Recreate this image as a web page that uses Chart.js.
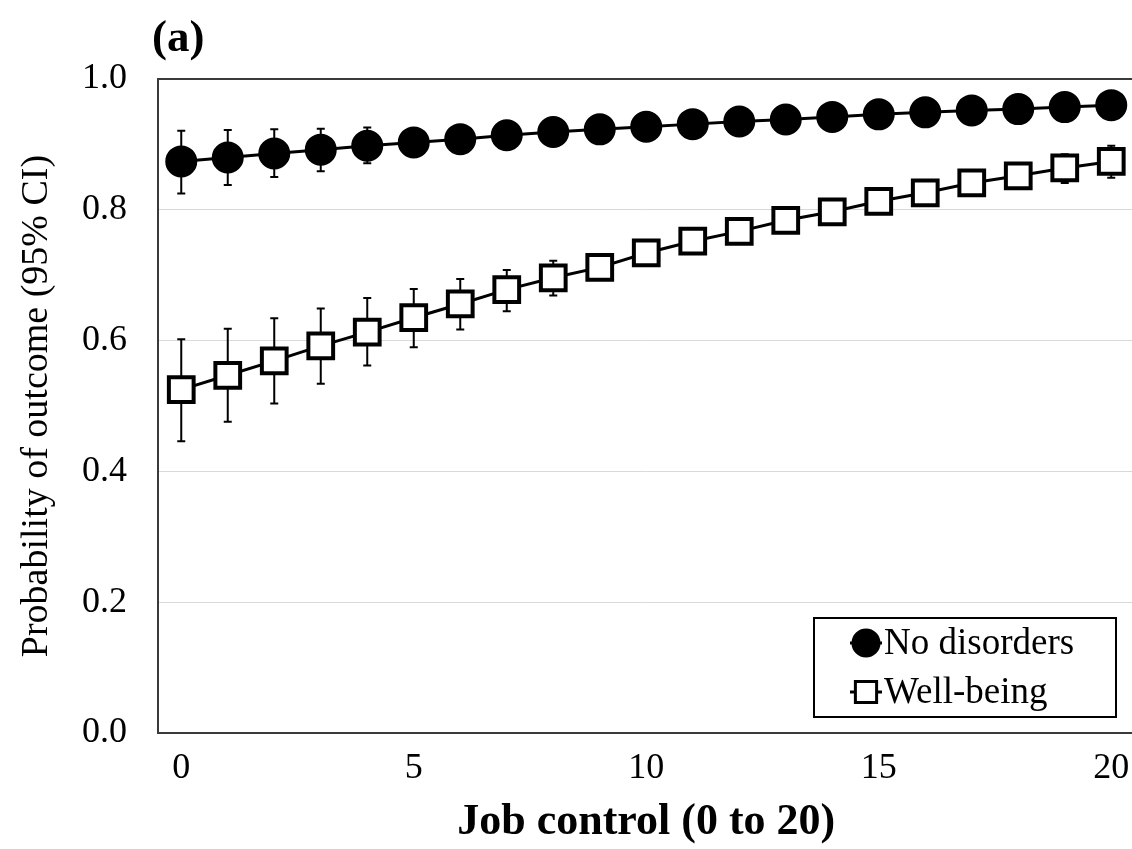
<!DOCTYPE html>
<html>
<head>
<meta charset="utf-8">
<script src="https://cdn.jsdelivr.net/npm/chart.js@4"></script>
<style>
  html, body { margin: 0; padding: 0; background: #fff; overflow: hidden; }
  #wrap { position: relative; width: 1156px; height: 849px; }
</style>
</head>
<body>
<div id="wrap"><canvas id="chart"></canvas></div>
<script>
// Job control score (x axis categories)
const jobControl = [0, 1, 2, 3, 4, 5, 6, 7, 8, 9, 10, 11, 12, 13, 14, 15, 16, 17, 18, 19, 20];
const xTickLabels = ['0', '5', '10', '15', '20'];
const yTickValues = [0.0, 0.2, 0.4, 0.6, 0.8, 1.0];

// Predicted probability of "No disorders" with 95% CI
const noDisorders      = [0.874, 0.880, 0.886, 0.892, 0.898, 0.903, 0.908, 0.914, 0.919, 0.923, 0.927, 0.931, 0.935, 0.938, 0.942, 0.946, 0.949, 0.952, 0.954, 0.957, 0.960];
const noDisordersLower = [0.825, 0.838, 0.850, 0.859, 0.871, 0.882, 0.890, 0.897, 0.903, 0.908, 0.913, 0.918, 0.922, 0.926, 0.930, 0.934, 0.937, 0.940, 0.942, 0.945, 0.947];
const noDisordersUpper = [0.921, 0.922, 0.923, 0.924, 0.926, 0.923, 0.925, 0.928, 0.934, 0.938, 0.941, 0.944, 0.947, 0.950, 0.953, 0.957, 0.960, 0.963, 0.965, 0.968, 0.971];

// Predicted probability of "Well-being" with 95% CI
const wellBeing      = [0.525, 0.547, 0.569, 0.592, 0.613, 0.635, 0.656, 0.678, 0.696, 0.712, 0.734, 0.752, 0.767, 0.784, 0.797, 0.813, 0.826, 0.841, 0.852, 0.864, 0.874];
const wellBeingLower = [0.446, 0.476, 0.504, 0.534, 0.562, 0.590, 0.617, 0.645, 0.669, 0.694, 0.717, 0.736, 0.752, 0.769, 0.783, 0.798, 0.811, 0.825, 0.832, 0.841, 0.849];
const wellBeingUpper = [0.602, 0.618, 0.634, 0.649, 0.665, 0.679, 0.694, 0.708, 0.722, 0.731, 0.751, 0.768, 0.782, 0.798, 0.811, 0.828, 0.841, 0.856, 0.871, 0.885, 0.898];

const serif = "'Liberation Serif', 'Times New Roman', serif";
const ink = '#000000';
const frameColor = '#3a3a3a';
const gridColor = '#d9d9d9';

// Vertical CI whiskers, drawn beneath the markers
const errorBars = {
  id: 'errorBars',
  beforeDatasetsDraw(chart) {
    const { ctx, scales: { x, y } } = chart;
    ctx.save();
    ctx.strokeStyle = ink;
    ctx.lineWidth = 2;
    chart.data.datasets.forEach((ds, di) => {
      if (!chart.isDatasetVisible(di)) return;
      ds.data.forEach((v, i) => {
        const px = x.getPixelForValue(i);
        const lo = y.getPixelForValue(ds.ciLower[i]);
        const hi = y.getPixelForValue(ds.ciUpper[i]);
        ctx.beginPath();
        ctx.moveTo(px, lo); ctx.lineTo(px, hi);
        ctx.moveTo(px - 4, lo); ctx.lineTo(px + 4, lo);
        ctx.moveTo(px - 4, hi); ctx.lineTo(px + 4, hi);
        ctx.stroke();
      });
    });
    ctx.restore();
  }
};

// Panel letter and the boxed legend inside the plot area
const decorations = {
  id: 'decorations',
  afterDraw(chart) {
    const { ctx } = chart;
    ctx.save();
    ctx.fillStyle = ink;
    ctx.font = `bold 45px ${serif}`;
    ctx.textAlign = 'left';
    ctx.textBaseline = 'alphabetic';
    ctx.fillText('(a)', 152, 51);

    // legend box
    const bx = 814, by = 618, bw = 302, bh = 99;
    ctx.fillStyle = '#ffffff';
    ctx.fillRect(bx, by, bw, bh);
    ctx.strokeStyle = ink;
    ctx.lineWidth = 2;
    ctx.strokeRect(bx, by, bw, bh);

    const rows = [643, 692];
    chart.data.datasets.forEach((ds, i) => {
      const cy = rows[i];
      const cx = 866;
      ctx.strokeStyle = ink;
      ctx.lineWidth = 3;
      ctx.beginPath();
      ctx.moveTo(cx - 16, cy); ctx.lineTo(cx + 16, cy);
      ctx.stroke();
      ctx.fillStyle = ds.pointBackgroundColor;
      ctx.strokeStyle = ds.pointBorderColor;
      Chart.helpers.drawPoint(ctx, {
        pointStyle: ds.pointStyle,
        radius: ds.legendRadius,
        borderWidth: ds.pointBorderWidth,
        rotation: 0
      }, cx, cy);
      ctx.fillStyle = ink;
      ctx.font = `37px ${serif}`;
      ctx.textAlign = 'left';
      ctx.textBaseline = 'middle';
      ctx.fillText(ds.label, 884, cy + 1);
    });
    ctx.restore();
  }
};

new Chart(document.getElementById('chart'), {
  type: 'line',
  data: {
    labels: jobControl,
    datasets: [
      {
        label: 'No disorders',
        data: noDisorders,
        ciLower: noDisordersLower,
        ciUpper: noDisordersUpper,
        borderColor: ink,
        borderWidth: 3,
        pointStyle: 'circle',
        pointRadius: 15,
        pointBorderWidth: 2,
        pointBackgroundColor: ink,
        pointBorderColor: ink,
        legendRadius: 13,
        tension: 0,
        fill: false
      },
      {
        label: 'Well-being',
        data: wellBeing,
        ciLower: wellBeingLower,
        ciUpper: wellBeingUpper,
        borderColor: ink,
        borderWidth: 3,
        pointStyle: 'rect',
        pointRadius: 17.5,
        pointBorderWidth: 4,
        pointBackgroundColor: '#ffffff',
        pointBorderColor: ink,
        legendRadius: 15,
        tension: 0,
        fill: false
      }
    ]
  },
  options: {
    responsive: true,
    maintainAspectRatio: false,
    animation: false,
    layout: { padding: { top: 79, right: 0, bottom: 0, left: 0 } },
    plugins: {
      legend: { display: false },
      tooltip: { enabled: false },
      title: { display: false }
    },
    scales: {
      x: {
        type: 'category',
        offset: true,
        grid: { display: false, drawTicks: false },
        border: { display: true, color: frameColor, width: 2 },
        ticks: {
          autoSkip: false,
          maxRotation: 0,
          padding: 14,
          color: ink,
          font: { family: serif, size: 36 },
          callback: (val, idx) => {
            const s = String(jobControl[idx]);
            return xTickLabels.includes(s) ? s : '';
          }
        },
        title: {
          display: true,
          text: 'Job control (0 to 20)',
          color: ink,
          font: { family: serif, size: 44, weight: 'bold' },
          padding: { top: 0, bottom: 0 }
        },
        afterFit: (s) => { s.height = 116; s.paddingLeft = 0; s.paddingRight = 0; }
      },
      y: {
        min: 0,
        max: 1,
        afterBuildTicks: (s) => { s.ticks = yTickValues.map(v => ({ value: v })); },
        grid: {
          drawTicks: false,
          color: (c) => (c.tick && c.tick.value === 1 ? frameColor : gridColor),
          lineWidth: (c) => (c.tick && c.tick.value === 1 ? 2 : 1)
        },
        border: { display: true, color: frameColor, width: 2 },
        ticks: {
          padding: 31,
          color: ink,
          font: { family: serif, size: 36 },
          callback: (v) => Number(v).toFixed(1)
        },
        title: {
          display: true,
          text: 'Probability of outcome (95% CI)',
          color: ink,
          font: { family: serif, size: 38 },
          padding: { top: 14, bottom: 0 }
        },
        afterFit: (s) => { s.width = 158; }
      }
    }
  },
  plugins: [errorBars, decorations]
});
</script>
</body>
</html>
